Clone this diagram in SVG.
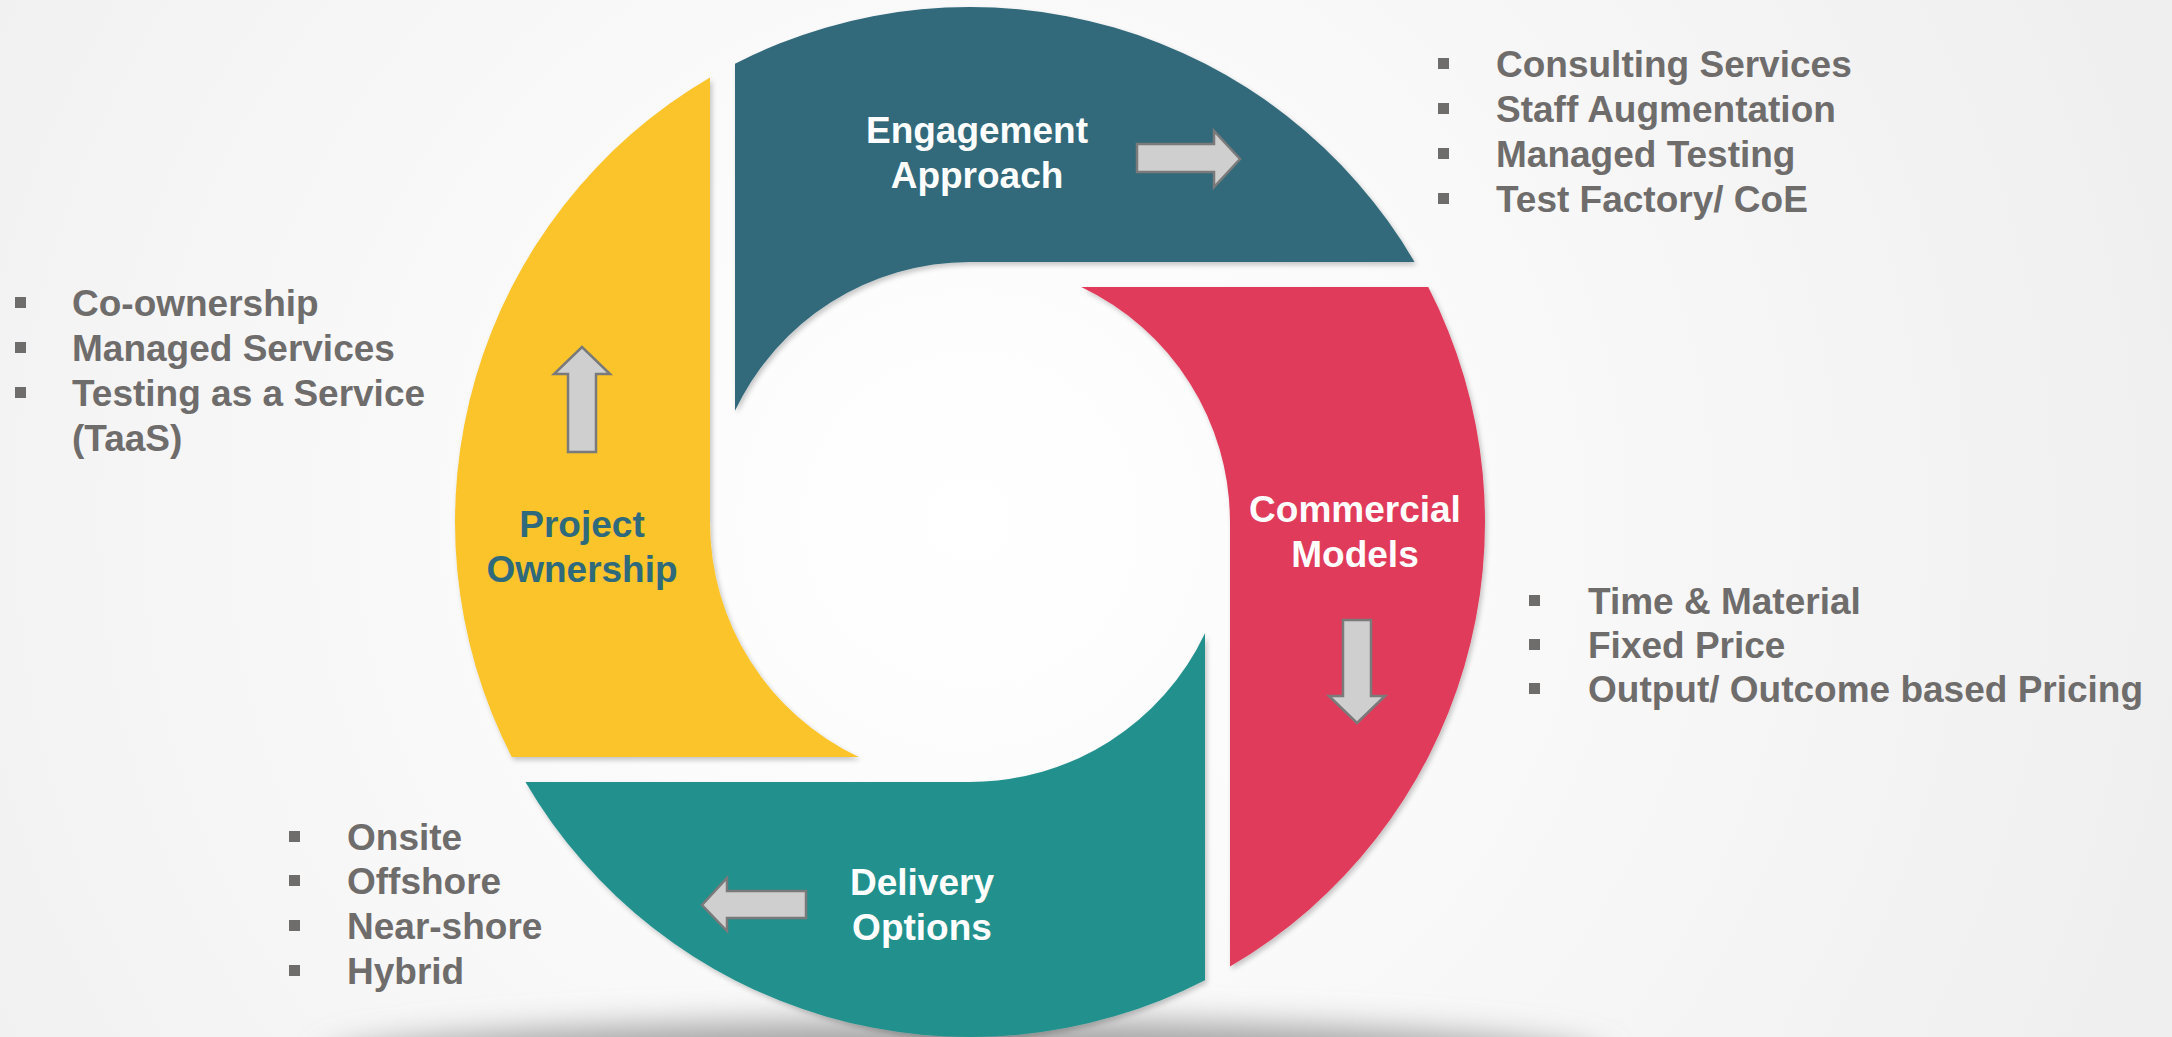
<svg xmlns="http://www.w3.org/2000/svg" width="2172" height="1037" viewBox="0 0 2172 1037">
  <defs>
    <radialGradient id="bg" cx="970" cy="520" r="1250" gradientUnits="userSpaceOnUse">
      <stop offset="0" stop-color="#FFFFFF"/>
      <stop offset="0.4" stop-color="#FAFAFA"/>
      <stop offset="1" stop-color="#EFEFEF"/>
    </radialGradient>
    <filter id="blur" x="-20%" y="-100%" width="140%" height="300%">
      <feGaussianBlur stdDeviation="16"/>
    </filter>
    <filter id="drop" x="-10%" y="-10%" width="120%" height="120%">
      <feDropShadow dx="2" dy="3" stdDeviation="2.5" flood-color="#000" flood-opacity="0.22"/>
    </filter>
    <style>
      .seg { filter: url(#drop); }
      .title { font-family: "Liberation Sans", Arial, sans-serif; font-weight: bold; font-size: 37px; text-anchor: middle; }
      .white { fill: #FFFFFF; }
      .dark { fill: #2E6A7C; }
      .item { font-family: "Liberation Sans", Arial, sans-serif; font-weight: bold; font-size: 37px; fill: #6F6C6C; }
      .bullet { fill: #6F6C6C; }
      .arrow { fill: #D0CFD0; stroke: #7A7A7A; stroke-width: 2.5; stroke-linejoin: miter; }
    </style>
  </defs>

  <rect x="0" y="0" width="2172" height="1037" fill="url(#bg)"/>
  <ellipse cx="965" cy="1062" rx="640" ry="42" fill="#A4A4A4" filter="url(#blur)"/>

  <g id="node-engagement">
    <path class="seg" fill="#316A7C" d="M735,63.74 A515,515 0 0 1 1414.55,262 L970,262 A260,260 0 0 0 735,410.76 Z"/>
    <text class="title white" x="977" y="143">Engagement</text>
    <text class="title white" x="977" y="188">Approach</text>
  </g>

  <g id="node-commercial">
    <path class="seg" fill="#E03A5A" d="M1081.24,287 L1428.26,287 A515,515 0 0 1 1230,966.55 L1230,522 A260,260 0 0 0 1081.24,287 Z"/>
    <text class="title white" x="1355" y="522">Commercial</text>
    <text class="title white" x="1355" y="567">Models</text>
  </g>

  <g id="node-delivery">
    <path class="seg" fill="#24918D" d="M1205,980.26 A515,515 0 0 1 525.45,782 L970,782 A260,260 0 0 0 1205,633.24 Z"/>
    <text class="title white" x="922" y="895">Delivery</text>
    <text class="title white" x="922" y="940">Options</text>
  </g>

  <g id="node-project">
    <path class="seg" fill="#FBC42C" d="M511.74,757 A515,515 0 0 1 710,77.45 L710,522 A260,260 0 0 0 858.76,757 Z"/>
    <text class="title dark" x="582" y="537">Project</text>
    <text class="title dark" x="582" y="582">Ownership</text>
  </g>

  <g id="connectors">
    <path class="arrow" d="M1137,144 L1214,144 L1214,131 L1240,159 L1214,187 L1214,172 L1137,172 Z"/>
    <path class="arrow" d="M1343,620 L1371,620 L1371,696 L1385,696 L1357,723 L1329,696 L1343,696 Z"/>
    <path class="arrow" d="M806,891 L806,918 L727,918 L727,931 L702,905 L727,878 L727,891 Z"/>
    <path class="arrow" d="M568,452 L596,452 L596,374 L610,374 L582,347 L554,374 L568,374 Z"/>
  </g>

  <g id="list-engagement">
    <rect class="bullet" x="1438" y="58" width="11" height="11"/>
    <rect class="bullet" x="1438" y="103" width="11" height="11"/>
    <rect class="bullet" x="1438" y="148" width="11" height="11"/>
    <rect class="bullet" x="1438" y="193" width="11" height="11"/>
    <text class="item" x="1496" y="77">Consulting Services</text>
    <text class="item" x="1496" y="122">Staff Augmentation</text>
    <text class="item" x="1496" y="167">Managed Testing</text>
    <text class="item" x="1496" y="212">Test Factory/ CoE</text>
  </g>

  <g id="list-project">
    <rect class="bullet" x="15" y="297" width="11" height="11"/>
    <rect class="bullet" x="15" y="342" width="11" height="11"/>
    <rect class="bullet" x="15" y="387" width="11" height="11"/>
    <text class="item" x="72" y="316">Co-ownership</text>
    <text class="item" x="72" y="361">Managed Services</text>
    <text class="item" x="72" y="406">Testing as a Service</text>
    <text class="item" x="72" y="451">(TaaS)</text>
  </g>

  <g id="list-commercial">
    <rect class="bullet" x="1529" y="595" width="11" height="11"/>
    <rect class="bullet" x="1529" y="639" width="11" height="11"/>
    <rect class="bullet" x="1529" y="683" width="11" height="11"/>
    <text class="item" x="1588" y="614">Time &amp; Material</text>
    <text class="item" x="1588" y="658">Fixed Price</text>
    <text class="item" x="1588" y="702">Output/ Outcome based Pricing</text>
  </g>

  <g id="list-delivery">
    <rect class="bullet" x="289" y="831" width="11" height="11"/>
    <rect class="bullet" x="289" y="875" width="11" height="11"/>
    <rect class="bullet" x="289" y="920" width="11" height="11"/>
    <rect class="bullet" x="289" y="965" width="11" height="11"/>
    <text class="item" x="347" y="850">Onsite</text>
    <text class="item" x="347" y="894">Offshore</text>
    <text class="item" x="347" y="939">Near-shore</text>
    <text class="item" x="347" y="984">Hybrid</text>
  </g>
</svg>
